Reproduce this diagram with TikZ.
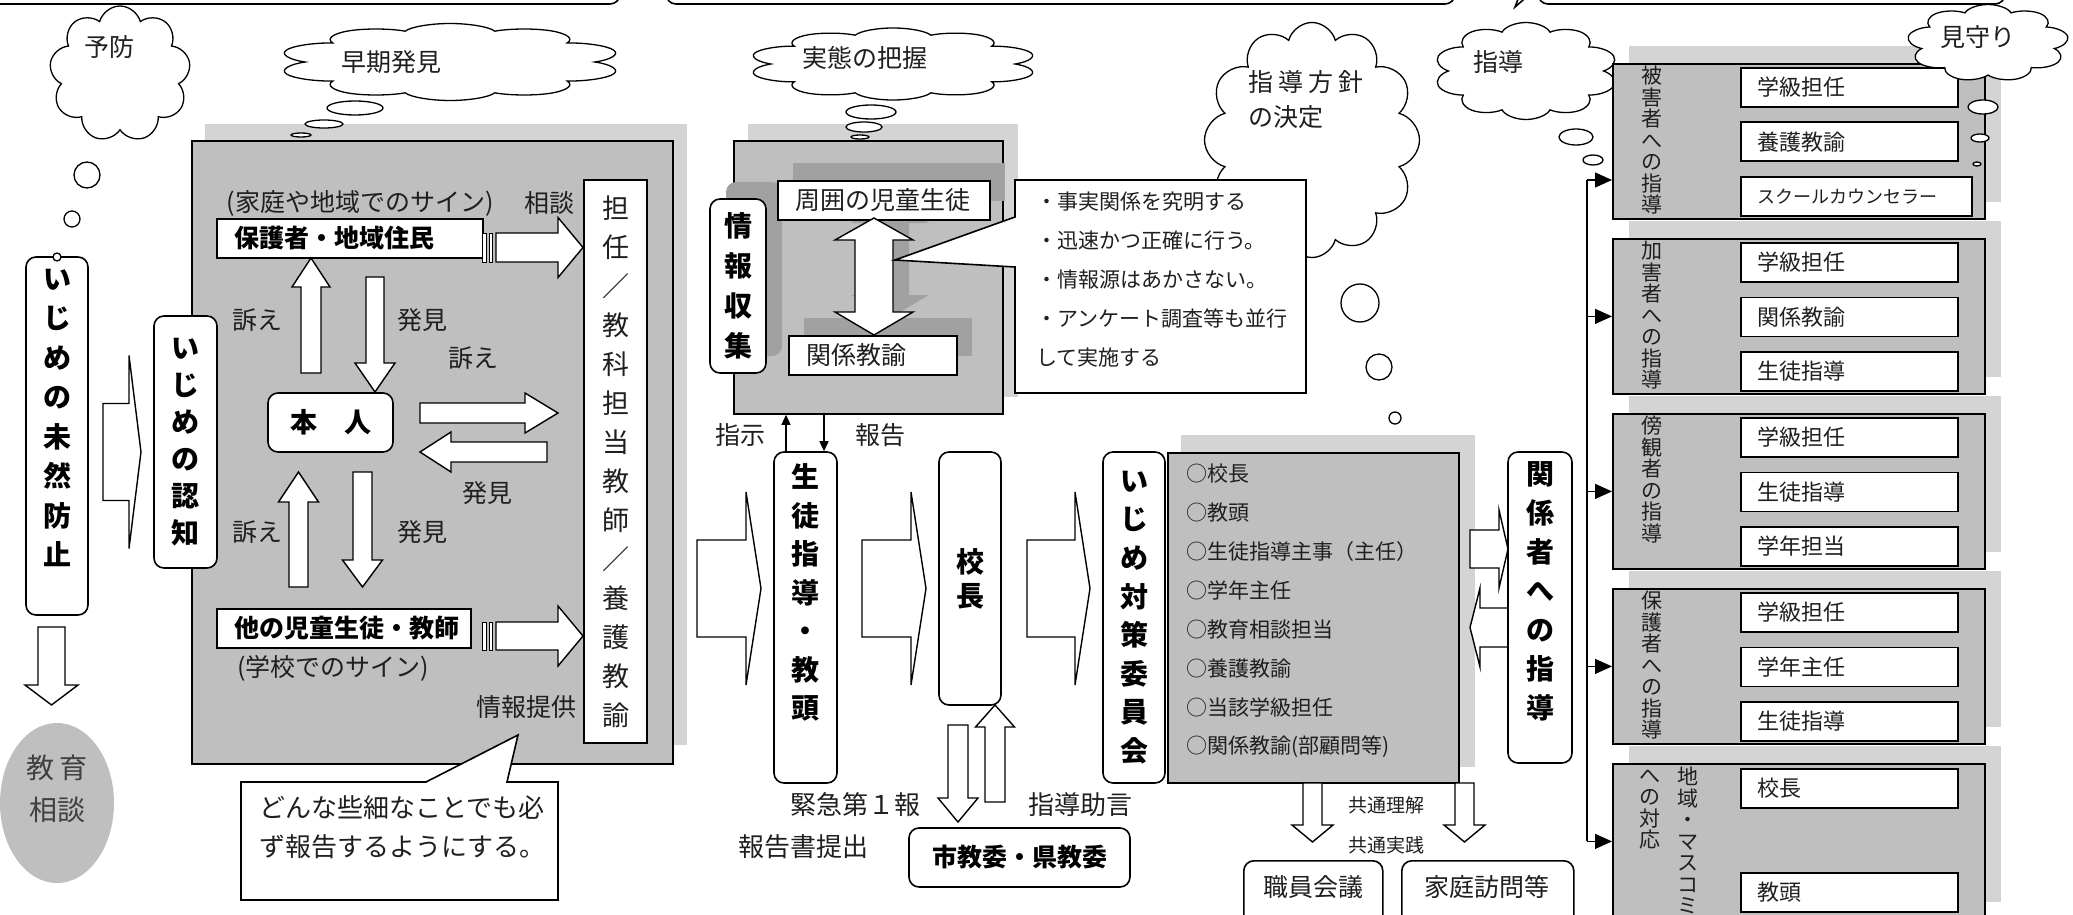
\documentclass[tikz,border=0pt]{standalone}
\usepackage{fontspec}
\setmainfont{Noto Sans CJK JP}
\usetikzlibrary{shapes.symbols,shapes.geometric,arrows.meta,positioning}
\definecolor{boxgray}{gray}{0.75}
\definecolor{backgray}{gray}{0.83}
\definecolor{darkshade}{gray}{0.63}
\definecolor{ink}{gray}{0.12}

\tikzset{
	box/.style={draw, fill=white, line width=1.6pt, inner sep=0pt},
	rbox/.style={box, rounded corners=10pt},
	graybox/.style={draw, fill=boxgray, line width=1.8pt},
	backshade/.style={fill=backgray},
	blockarrow/.style={draw, fill=white, line width=1.4pt, line join=miter},
	thought/.style={cloud, draw, fill=white, line width=1.3pt, cloud ignores aspect, cloud puffs=#1, inner sep=0pt},
	thought/.default=10,
	widecloud/.style={cloud, draw, fill=white, line width=1.3pt, aspect=1, cloud puffs=#1, inner sep=0pt, transform shape},
	bubble/.style={draw, fill=white, line width=1.3pt},
	lbl/.style={inner sep=0pt, text=ink, font=\fontsize{25}{30}\selectfont},
	vlbl/.style={inner sep=0pt, align=center, text=black, font=\bfseries\fontsize{28}{#1}\selectfont},
	vlbl/.default=38.5,
	slbl/.style={inner sep=0pt, align=center, anchor=north, text=ink, font=\fontsize{21}{21.5}\selectfont},
	namebox/.style={box, anchor=north west, minimum height=39pt, inner xsep=18pt, align=left, font=\bfseries\fontsize{25}{30}\selectfont},
	cell/.style={box, anchor=north west, minimum width=217pt, text width=183pt, minimum height=39pt, inner xsep=17pt, align=left, text=ink, font=\fontsize{22}{26}\selectfont},
	smallarrow/.style={-{Triangle[length=10pt, width=9pt]}, line width=1.4pt},
	feed/.style={-{Triangle[length=17pt, width=15pt]}, line width=1.4pt},
}
% hollow block arrows: tail, base, tip, middle, half shaft, half head
\newcommand{\hollowH}[6]{\draw[blockarrow] (#1,#4-#5) -- (#2,#4-#5) -- (#2,#4-#6) -- (#3,#4) -- (#2,#4+#6) -- (#2,#4+#5) -- (#1,#4+#5) -- cycle;}
\newcommand{\hollowV}[6]{\draw[blockarrow] (#4-#5,#1) -- (#4-#5,#2) -- (#4-#6,#2) -- (#4,#3) -- (#4+#6,#2) -- (#4+#5,#2) -- (#4+#5,#1) -- cycle;}

\begin{document}
\begin{tikzpicture}[x=1pt, y=-1pt]
	\useasboundingbox (0,0) rectangle (2073,915);
	% Frames cut by the top edge
	\draw[line width=1.6pt, rounded corners=10pt] (-20,-60) rectangle (620,4);
	\draw[line width=1.6pt, rounded corners=10pt] (666,-60) rectangle (1455,4);
	\draw[line width=1.6pt, rounded corners=10pt] (1538,-60) rectangle (2005,4);
	\draw[line width=1.6pt] (1530,-6) -- (1515,7) -- (1520,-6);

	% Prevention column
	\node[thought=9, minimum width=141, minimum height=136] (yobou) at (120,74) {};
	\node[lbl] (yobout) at (109,47) {予防};
	\draw[bubble] (87,175) circle[radius=13pt];
	\draw[bubble] (72,219) circle[radius=8pt];
	\node[rbox, minimum width=62, minimum height=358] (mizen) at (57,436) {};
	\node[vlbl=39.5] (mizent) at (57,418) {い\\じ\\め\\の\\未\\然\\防\\止};
	\draw[bubble] (57,257) circle[radius=4pt];
	\hollowV{627}{685}{705}{51.5}{13.5}{26.5}
	\node[ellipse, fill=boxgray, minimum width=114, minimum height=160] (kyouiku) at (57,803) {};
	\node[lbl, align=center, text=ink!85, font=\fontsize{28}{42}\selectfont] (kyouikut) at (57,789) {教\,育\\相談};

	% Early detection panel
	\node[widecloud=10, minimum size=77, xscale=4.47] (souki) at (450,62) {};
	\node[lbl] (soukit) at (391,62) {早期発見};
	\fill[backshade] (205,124) rectangle (687,745);
	\node[graybox, anchor=north west, minimum width=481, minimum height=623] (panelA) at (191,140) {};
	\draw[bubble] (355,108) ellipse[x radius=28pt, y radius=7pt];
	\draw[bubble] (324,124) ellipse[x radius=19pt, y radius=4pt];
	\draw[bubble] (301,135) ellipse[x radius=10pt, y radius=2pt];
	\hollowH{103}{129}{141}{452}{48.5}{96.5}
	\node[rbox, minimum width=63, minimum height=252, vlbl=37] (ninchi) at (185.5,442) {い\\じ\\め\\の\\認\\知};
	\node[lbl] (sign1) at (360,203) {(家庭や地域でのサイン)};
	\node[lbl] (soudan) at (549,203) {相談};
	\node[namebox, minimum width=266, text width=230] (hogosha) at (216,218) {保護者・地域住民};
	\node[box, minimum width=63, minimum height=563, align=center, text=ink, font=\fontsize{27}{39}\selectfont] (tannin) at (615.5,461.5) {担\\任\\／\\教\\科\\担\\当\\教\\師\\／\\養\\護\\教\\諭};
	\draw[blockarrow, line width=1pt] (482,233) rectangle (486,262);
	\draw[blockarrow, line width=1pt] (489,233) rectangle (492,262);
	\hollowH{496}{558}{583}{247.5}{14.5}{30}
	\node[rbox, minimum width=125, minimum height=59, font=\bfseries\fontsize{27}{30}\selectfont] (honnin) at (330.5,422.5) {本　人};
	\hollowV{373}{287}{258}{311}{10}{19}
	\hollowV{277}{363}{392}{375}{9}{20}
	\hollowH{420}{525}{558}{413}{10}{20}
	\hollowH{547}{451}{420}{452}{10}{20}
	\hollowV{587}{502}{472}{298.5}{9.5}{20}
	\hollowV{472}{560}{587}{362.5}{9.5}{20}
	\node[lbl] (uttae1) at (257,320) {訴え};
	\node[lbl] (hakken1) at (422,320) {発見};
	\node[lbl] (uttae2) at (473,358) {訴え};
	\node[lbl] (hakken2) at (487,493) {発見};
	\node[lbl] (uttae3) at (257,532) {訴え};
	\node[lbl] (hakken3) at (422,532) {発見};
	\node[namebox, minimum width=254, text width=218] (tanoji) at (216,608) {他の児童生徒・教師};
	\node[lbl] (sign2) at (333,668) {(学校でのサイン)};
	\draw[blockarrow, line width=1pt] (482,622) rectangle (486,650);
	\draw[blockarrow, line width=1pt] (489,622) rectangle (492,650);
	\hollowH{496}{558}{583}{636}{14}{30}
	\node[lbl] (teikyou) at (526,707) {情報提供};
	% Callout
	\draw[box] (241,782) -- (426,782) -- (518,735) -- (507,782) -- (558,782) -- (558,900) -- (241,900) -- cycle;
	\node[lbl, anchor=west, align=left, font=\fontsize{26}{39}\selectfont] (chuui) at (259,827.5) {どんな些細なことでも必\\ず報告するようにする。};

	% Fact finding panel
	\node[widecloud=10, minimum size=72, xscale=4.03] (jittai) at (893,64) {};
	\node[lbl] (jittait) at (865,58) {実態の把握};
	\fill[backshade] (748,124) rectangle (1018,397);
	\node[graybox, anchor=north west, minimum width=269, minimum height=273] (panelB) at (733,140) {};
	\draw[bubble] (871,112) ellipse[x radius=25pt, y radius=7pt];
	\draw[bubble] (864,127) ellipse[x radius=18pt, y radius=5pt];
	\draw[bubble] (860,137) ellipse[x radius=9pt, y radius=2pt];
	\fill[darkshade] (793,163) rectangle (1005,201);
	\fill[darkshade, rounded corners=10pt] (726,182) rectangle (782,356);
	\fill[darkshade] (804,318) rectangle (972,356);
	\fill[darkshade] (890,201) -- (929,223) -- (909,223) -- (909,295) -- (929,295) -- (890,318) -- (851,295) -- (871,295) -- (871,223) -- (851,223) -- cycle;
	\node[rbox, minimum width=56, minimum height=174, vlbl=40] (jouhou) at (738,286) {情\\報\\収\\集};
	\node[cell, minimum width=212, text width=176, font=\fontsize{25}{30}\selectfont] (shuui) at (777,180) {周囲の児童生徒};
	\node[cell, minimum width=168, text width=132, font=\fontsize{25}{30}\selectfont] (kankei) at (788,335) {関係教諭};
	\draw[blockarrow] (874,218) -- (913,240) -- (893,240) -- (893,312) -- (913,312) -- (874,335) -- (835,312) -- (855,312) -- (855,240) -- (835,240) -- cycle;
	\node[thought=12, minimum width=215, minimum height=235] (houshin) at (1312,140) {};
	\node[lbl, anchor=west, align=left, font=\fontsize{25}{35}\selectfont] (houshint) at (1248,100) {指\hspace{5pt}導\hspace{5pt}方\hspace{5pt}針\\の決定};
	\draw[bubble] (1360,303) circle[radius=19pt];
	\draw[bubble] (1379,367) circle[radius=13pt];
	\draw[bubble] (1395,418) circle[radius=6pt];
	\draw[box] (1015,180) -- (1306,180) -- (1306,393) -- (1015,393) -- (1015,267) -- (895,260) -- (1015,217) -- cycle;
	\node[lbl, anchor=west, align=left, font=\fontsize{21}{39}\selectfont] (points) at (1036,280) {・事実関係を究明する\\・迅速かつ正確に行う。\\・情報源はあかさない。\\・アンケート調査等も並行\\して実施する};

	% Reporting flow
	\node[rbox, minimum width=63, minimum height=331] (seito) at (805.5,617.5) {};
	\node[vlbl=38.5] (seitot) at (805.5,592.5) {生\\徒\\指\\導\\・\\教\\頭};
	\coordinate (shiji) at (786,0);
	\coordinate (houkoku) at (824,0);
	\draw[smallarrow] (shiji |- seito.north) -- (shiji |- panelB.south);
	\draw[smallarrow] (houkoku |- panelB.south) -- (houkoku |- seito.north);
	\node[lbl] (shijit) at (740,435) {指示};
	\node[lbl] (houkokut) at (880,435) {報告};
	\hollowH{697}{746}{761}{588.5}{48.5}{96.5}
	\hollowH{862}{911}{926}{588.5}{48.5}{96.5}
	\node[rbox, minimum width=62, minimum height=253, vlbl=34] (kouchou) at (970,578.5) {校\\長};
	\hollowV{725}{798}{822}{958}{10}{20}
	\hollowV{802}{727}{705}{995}{10}{19.5}
	\node[lbl, font=\fontsize{26}{30}\selectfont] (daiippou) at (855,805) {緊急第１報};
	\node[lbl, font=\fontsize{26}{30}\selectfont] (teishutsu) at (803,847) {報告書提出};
	\node[lbl, font=\fontsize{26}{30}\selectfont] (jogen) at (1080,805) {指導助言};
	\node[rbox, minimum width=221, minimum height=59, font=\bfseries\fontsize{25}{30}\selectfont] (kyouiinkai) at (1019.5,857.5) {市教委・県教委};
	\hollowH{1027}{1075}{1090}{588.5}{48.5}{96.5}
	\node[rbox, minimum width=62, minimum height=331, vlbl=38.6] (taisaku) at (1134,617.5) {い\\じ\\め\\対\\策\\委\\員\\会};
	\fill[backshade] (1181,435) rectangle (1475,767);
	\node[graybox, anchor=north west, minimum width=291, minimum height=330] (panelC) at (1167,452) {};
	\node[lbl, anchor=west, align=left, font=\fontsize{21}{38.9}\selectfont] (member) at (1186,611) {○校長\\○教頭\\○生徒指導主事（主任）\\○学年主任\\○教育相談担当\\○養護教諭\\○当該学級担任\\○関係教諭(部顧問等)};
	\hollowH{1470}{1499}{1508}{549}{19}{39}
	\hollowH{1508}{1480}{1470}{627.5}{19.5}{39.5}
	\node[rbox, minimum width=64, minimum height=311] (kankeisha) at (1540,607.5) {};
	\node[vlbl=39] (kankeishat) at (1540,591.5) {関\\係\\者\\へ\\の\\指\\導};
	\hollowV{783}{825}{842}{1312.5}{9.5}{20.5}
	\hollowV{783}{825}{842}{1464.5}{9.5}{20.5}
	\node[lbl, font=\fontsize{19}{22}\selectfont] (rikai) at (1386,805) {共通理解};
	\node[lbl, font=\fontsize{19}{22}\selectfont] (jissen) at (1386,845) {共通実践};
	\node[rbox, anchor=north west, minimum width=139, minimum height=90] (shokuin) at (1243,860) {};
	\node[lbl] (shokuint) at (1313,887) {職員会議};
	\node[rbox, anchor=north west, minimum width=172, minimum height=90] (katei) at (1401,860) {};
	\node[lbl] (kateit) at (1487,887) {家庭訪問等};

	% Guidance panels
	\node[widecloud=10, minimum size=97, xscale=1.9] (shidou) at (1526,71) {};
	\node[lbl] (shidout) at (1498,62) {指導};
	\draw[bubble] (1576,137) ellipse[x radius=17pt, y radius=8pt];
	\draw[bubble] (1593,160) ellipse[x radius=10pt, y radius=5pt];
	\foreach \t in {63,238,413,588,763}
		\fill[backshade] (1629,\t-17) rectangle (2001,\t+139);
	\node[graybox, anchor=north west, minimum width=372, minimum height=155] (higai) at (1612,63) {};
	\node[graybox, anchor=north west, minimum width=372, minimum height=155] (kagai) at (1612,238) {};
	\node[graybox, anchor=north west, minimum width=372, minimum height=155] (boukan) at (1612,413) {};
	\node[graybox, anchor=north west, minimum width=372, minimum height=155] (hogo) at (1612,588) {};
	\node[graybox, anchor=north west, minimum width=372, minimum height=155] (chiiki) at (1612,763) {};
	\node[slbl] (higait) at (1652,66) {被\\害\\者\\へ\\の\\指\\導};
	\node[slbl] (kagait) at (1652,241) {加\\害\\者\\へ\\の\\指\\導};
	\node[slbl] (boukant) at (1652,416) {傍\\観\\者\\の\\指\\導};
	\node[slbl] (hogot) at (1652,591) {保\\護\\者\\へ\\の\\指\\導};
	\node[slbl] (chiikit) at (1688,767) {地\\域\\・\\マ\\ス\\コ\\ミ};
	\node[slbl] (taiou) at (1650,769) {へ\\の\\対\\応};
	\node[cell] (h1) at (1740,67) {学級担任};
	\node[cell] (h2) at (1740,121.5) {養護教諭};
	\node[cell, minimum width=231, text width=197, font=\fontsize{18}{22}\selectfont] (h3) at (1740,176) {スクールカウンセラー};
	\node[cell] (k1) at (1740,242) {学級担任};
	\node[cell] (k2) at (1740,296.5) {関係教諭};
	\node[cell] (k3) at (1740,351) {生徒指導};
	\node[cell] (b1) at (1740,417) {学級担任};
	\node[cell] (b2) at (1740,471.5) {生徒指導};
	\node[cell] (b3) at (1740,526) {学年担当};
	\node[cell] (p1) at (1740,592) {学級担任};
	\node[cell] (p2) at (1740,646.5) {学年主任};
	\node[cell] (p3) at (1740,701) {生徒指導};
	\node[cell] (c1) at (1740,768) {校長};
	\node[cell] (c2) at (1740,872) {教頭};
	% Feed line
	\coordinate (bus) at (1587,180);
	\draw[line width=1.4pt] (bus) -- (bus |- chiiki.west);
	\draw[feed] (bus) -- (bus -| higai.west);
	\foreach \b in {kagai,boukan,hogo,chiiki}
		\draw[feed] (bus |- \b.west) -- (\b.west);
	\node[widecloud=9, minimum size=77, xscale=2.1] (mimamori) at (1988,43) {};
	\node[lbl] (mimamorit) at (1978,37) {見守り};
	\draw[bubble] (1983,107) ellipse[x radius=15pt, y radius=7pt];
	\draw[bubble] (1980,138) ellipse[x radius=9pt, y radius=4pt];
	\draw[bubble] (1977,164) ellipse[x radius=4pt, y radius=2pt];
\end{tikzpicture}
\end{document}
